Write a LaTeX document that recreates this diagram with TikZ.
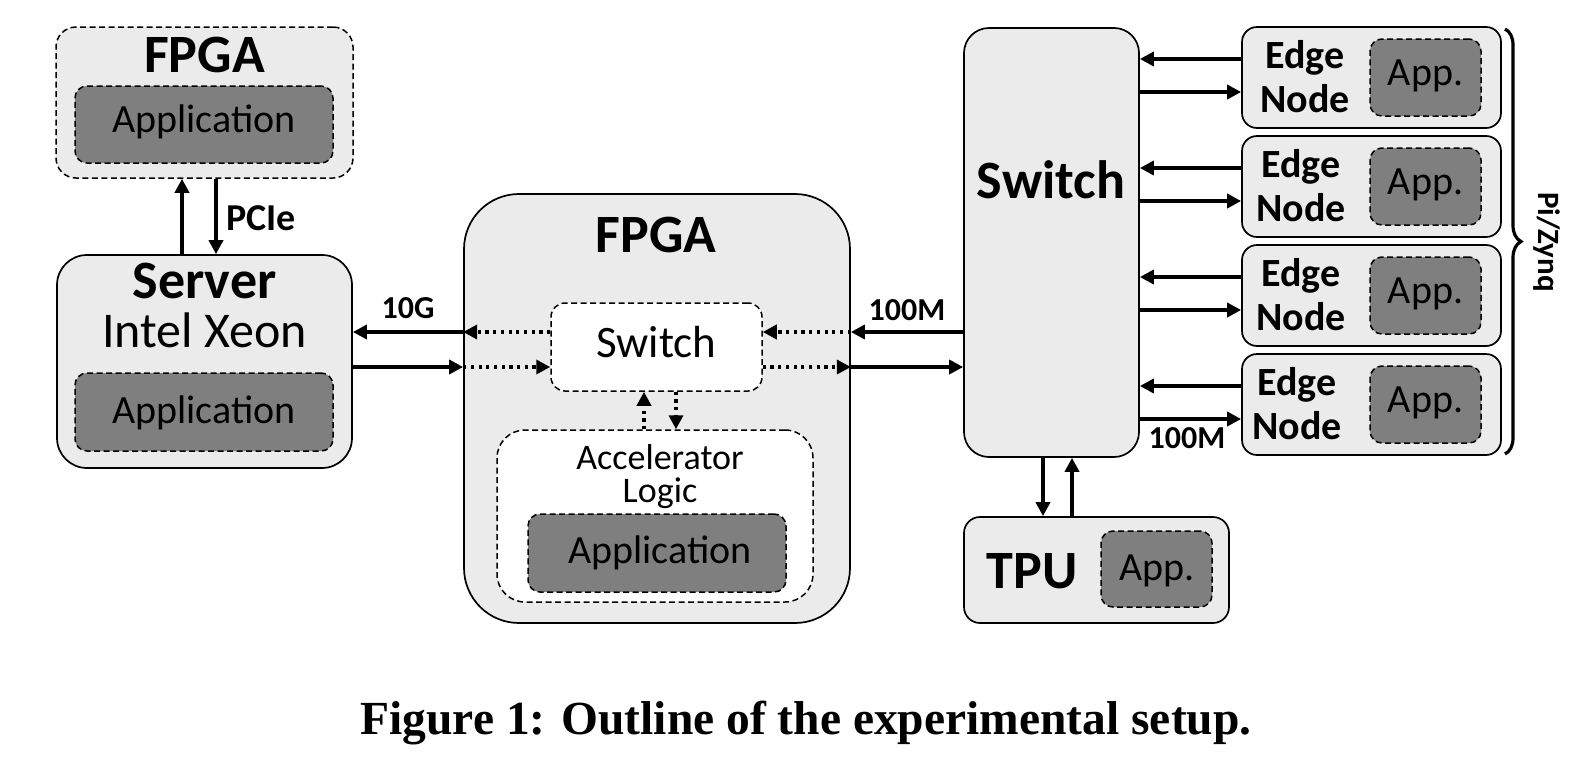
\documentclass[tikz,border=0pt]{standalone}
\usepackage{fontspec}
\setmainfont{Carlito}
\newfontfamily\capfont{Liberation Serif}
\usetikzlibrary{arrows.meta,decorations.pathreplacing}
\definecolor{boxgray}{HTML}{EBEBEB}
\definecolor{appgray}{HTML}{7F7F7F}
\tikzset{
  lbox/.style={draw=black, line width=1.7pt, fill=boxgray, inner sep=0pt},
  dbox/.style={draw=black, line width=1.5pt, dash pattern=on 6pt off 3.5pt, inner sep=0pt},
  appbox/.style={dbox, fill=appgray},
  txt/.style={anchor=base, inner sep=0pt},
  arr/.style={line width=3.6pt, -{Triangle[length=14pt,width=14pt]}},
  darr/.style={line width=3.6pt, dash pattern=on 3.2pt off 4.5pt, -{Triangle[length=14pt,width=14pt]}},
  fbig/.style={font=\fontsize{54}{54}\bfseries},
  fapp/.style={font=\fontsize{40}{40}\selectfont},
  flab/.style={font=\fontsize{32}{32}\bfseries},
  fedge/.style={font=\fontsize{40}{40}\bfseries},
  facc/.style={font=\fontsize{36}{36}\selectfont},
}
\begin{document}
\begin{tikzpicture}[x=1pt,y=-1pt]
\fill[white] (0,0) rectangle (1582,766);
\useasboundingbox (0,0) rectangle (1582,766);

% top FPGA
\node[dbox, fill=boxgray, rounded corners=20pt, minimum width=297pt, minimum height=151pt] (fpgaT) at (204.5,102.5) {};
\node[appbox, rounded corners=12pt, minimum width=258pt, minimum height=77pt] (appT) at (204,124.5) {};
\node[txt, fbig] (fpgaTt) at (204.5,72) {FPGA};
\node[txt, fapp] (appTt) at (204,132) {Application};

% server
\node[lbox, rounded corners=30pt, minimum width=295pt, minimum height=213pt] (srv) at (204.5,361.5) {};
\node[appbox, rounded corners=12pt, minimum width=258pt, minimum height=78pt] (appS) at (204,412) {};
\node[txt, fbig] (srvt) at (204.5,298) {Server};
\node[txt, font=\fontsize{50}{50}\selectfont] (xeon) at (204.5,347) {Intel Xeon};
\node[txt, fapp] (appSt) at (204,423) {Application};

% PCIe arrows
\draw[arr] ([xshift=-22.5pt]srv.north) -- ([xshift=-22.5pt]fpgaT.south);
\draw[arr] ([xshift=11.5pt]fpgaT.south) -- ([xshift=11.5pt]srv.north);
\node[txt, anchor=base west, font=\fontsize{38}{38}\bfseries] (pcie) at (226,230) {PCIe};

% middle FPGA
\node[lbox, rounded corners=55pt, minimum width=386pt, minimum height=429pt] (fpgaM) at (657,408.5) {};
\node[txt, fbig] (fpgaMt) at (656,252) {FPGA};
\node[dbox, fill=white, rounded corners=14pt, minimum width=211pt, minimum height=88pt] (swI) at (656.5,347) {};
\node[txt, font=\fontsize{45}{45}\selectfont] (swIt) at (656.5,357) {Switch};
\node[dbox, fill=white, rounded corners=28pt, minimum width=316pt, minimum height=172pt] (acc) at (655,516) {};
\node[anchor=base, inner sep=0pt, facc, text depth=0pt] (acct1) at (660,469) {Accelerator};
\node[anchor=base, inner sep=0pt, facc, text height=20pt] (acct2) at (660,502) {Logic};
\node[appbox, rounded corners=12pt, minimum width=258pt, minimum height=78pt] (appA) at (657,553) {};
\node[txt, fapp] (appAt) at (660,563) {Application};

% right switch
\node[lbox, rounded corners=25pt, minimum width=175pt, minimum height=429pt] (swR) at (1051.5,242.5) {};
\node[txt, fbig] (swRt) at (1051,198) {Switch};

% row arrows
\coordinate (rowA) at (0,332);
\coordinate (rowB) at (0,367);
\draw[arr] (fpgaM.west |- rowA) -- (srv.east |- rowA);
\draw[darr] (swI.west |- rowA) -- (fpgaM.west |- rowA);
\draw[arr] (srv.east |- rowB) -- (fpgaM.west |- rowB);
\draw[darr] (fpgaM.west |- rowB) -- (swI.west |- rowB);
\draw[arr] (swR.west |- rowA) -- (fpgaM.east |- rowA);
\draw[darr] (fpgaM.east |- rowA) -- (swI.east |- rowA);
\draw[darr] (swI.east |- rowB) -- (fpgaM.east |- rowB);
\draw[arr] (fpgaM.east |- rowB) -- (swR.west |- rowB);
\node[txt, flab] (l10g) at (408,318) {10G};
\node[txt, flab] (l100a) at (907,320) {100M};

% vertical dotted arrows
\coordinate (cu) at (644,0);
\coordinate (cd) at (676,0);
\draw[darr] (cu |- acc.north) -- (cu |- swI.south);
\draw[darr] (cd |- swI.south) -- (cd |- acc.north);

% edge nodes
\foreach \i/\y/\tx in {1/77.5/1305,2/186.5/1301,3/295.5/1301,4/404.5/1297}{
  \node[lbox, rounded corners=15pt, minimum width=259pt, minimum height=101pt] (e\i) at (1371.5,\y) {};
  \node[appbox, rounded corners=12pt, minimum width=111pt, minimum height=77pt] (ea\i) at (1425.5,\y) {};
  \node[txt, fedge] (et\i) at (\tx,\y-9.5) {Edge};
  \node[txt, fedge] (en\i) at (\tx,\y+34.5) {Node};
  \node[txt, fapp] (eat\i) at (1425.5,\y+7.5) {App.};
  \coordinate (ua\i) at (0,\y-18.5);
  \coordinate (ub\i) at (0,\y+14.5);
  \draw[arr] (e\i.west |- ua\i) -- (swR.east |- ua\i);
  \draw[arr] (swR.east |- ub\i) -- (e\i.west |- ub\i);
}
\node[txt, flab] (l100b) at (1187,448) {100M};

% TPU
\node[lbox, rounded corners=16pt, minimum width=265pt, minimum height=106pt] (tpu) at (1096.5,570) {};
\node[appbox, rounded corners=12pt, minimum width=111pt, minimum height=76pt] (tpua) at (1156.5,569) {};
\node[txt, fbig] (tput) at (1032,588) {TPU};
\node[txt, fapp] (tpuat) at (1157,580) {App.};
\coordinate (td) at (1043,0);
\coordinate (tu) at (1072,0);
\draw[arr] (td |- swR.south) -- (td |- tpu.north);
\draw[arr] (tu |- tpu.north) -- (tu |- swR.south);

% brace
\coordinate (bt) at (1505,29);
\coordinate (bb) at (1505,454);
\draw[decorate, decoration={brace, amplitude=16pt}, line width=3.2pt] (bt) -- (bb);
\node[font=\fontsize{31}{31}\bfseries, rotate=-90, inner sep=0pt] (pz) at (1547,242) {Pi/Zynq};

% caption
\node[txt, font=\capfont\fontsize{47.5}{47.5}\bfseries] (cap) at (806,734) {Figure 1: Outline of the experimental setup.};
\end{tikzpicture}
\end{document}
